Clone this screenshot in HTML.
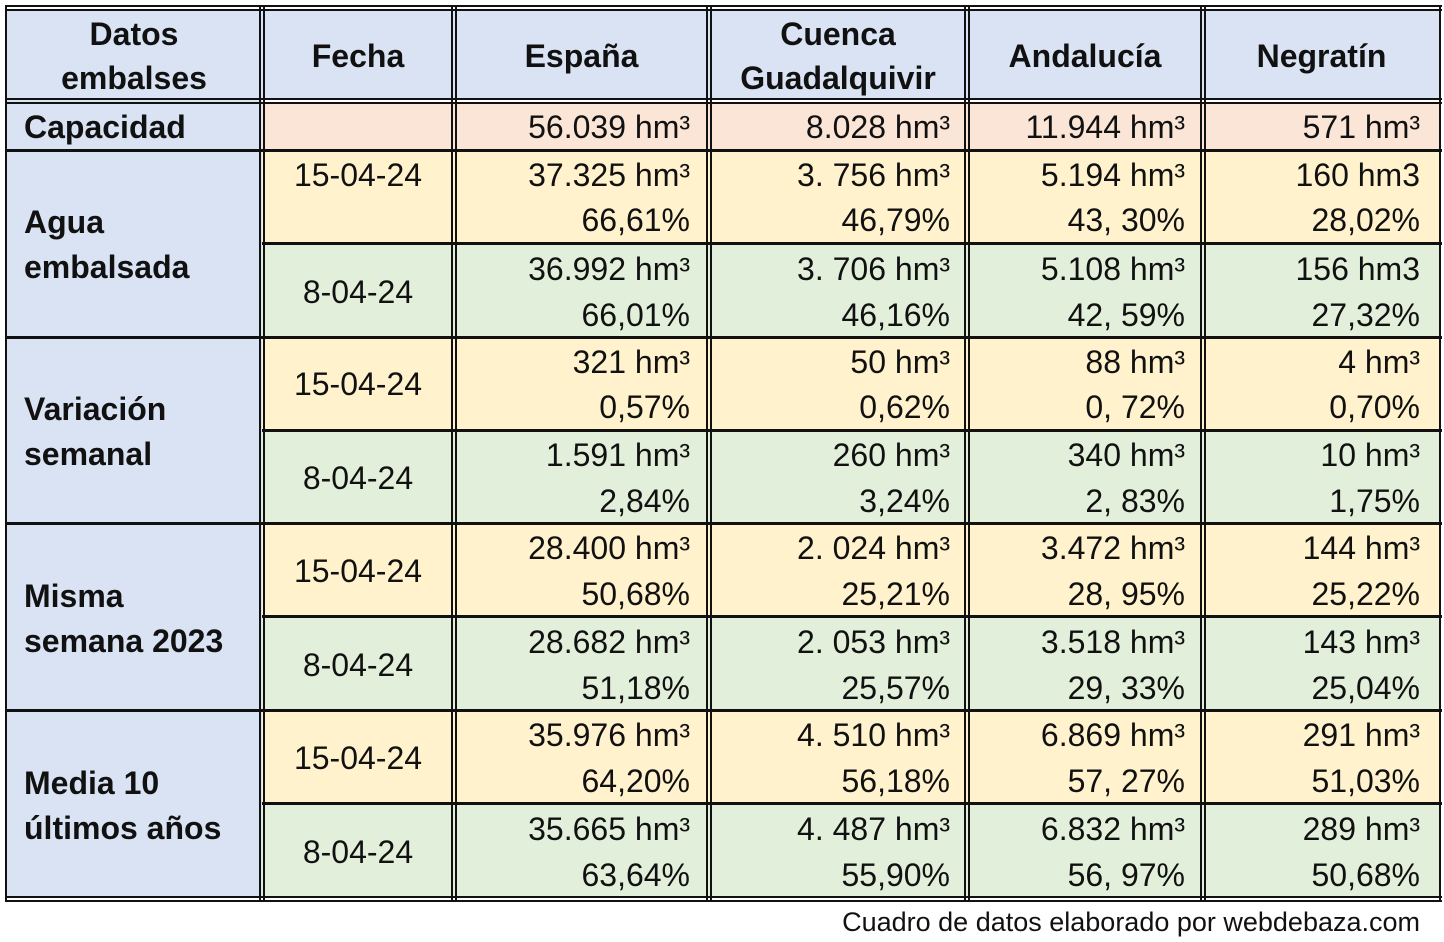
<!DOCTYPE html>
<html><head><meta charset="utf-8"><style>
body{margin:0;width:1444px;height:929px;background:#fff;position:relative;overflow:hidden;font-family:"Liberation Sans",sans-serif;color:#111}
.b{position:absolute}
.l{position:absolute;background:#111}
.t{position:absolute;height:40px;line-height:40px;font-size:32px;white-space:nowrap}
.h{font-weight:bold;text-align:center}
.c1{left:262px;width:192px;text-align:center}
.c2{right:754px;text-align:right}
.c3{right:494px;text-align:right}
.c4{right:259px;text-align:right}
.c5{right:24px;text-align:right}
.lab{left:24px;font-weight:bold}
</style></head><body>
<div class="b" style="left:6px;top:10px;width:1434px;height:90px;background:#dae3f3"></div>
<div class="b" style="left:6px;top:100px;width:256px;height:797px;background:#dae3f3"></div>
<div class="b" style="left:262px;top:102px;width:1178px;height:48px;background:#fbe5d6"></div>
<div class="b" style="left:262px;top:150px;width:1178px;height:93px;background:#fff2cc"></div>
<div class="b" style="left:262px;top:243px;width:1178px;height:94px;background:#e2efda"></div>
<div class="b" style="left:262px;top:337px;width:1178px;height:93px;background:#fff2cc"></div>
<div class="b" style="left:262px;top:430px;width:1178px;height:93px;background:#e2efda"></div>
<div class="b" style="left:262px;top:523px;width:1178px;height:93px;background:#fff2cc"></div>
<div class="b" style="left:262px;top:616px;width:1178px;height:94px;background:#e2efda"></div>
<div class="b" style="left:262px;top:710px;width:1178px;height:93px;background:#fff2cc"></div>
<div class="b" style="left:262px;top:803px;width:1178px;height:94px;background:#e2efda"></div>
<div class="l" style="left:5px;top:5px;width:1437px;height:2px"></div>
<div class="l" style="left:5px;top:9px;width:1437px;height:2px"></div>
<div class="l" style="left:5px;top:98px;width:1437px;height:2px"></div>
<div class="l" style="left:5px;top:102px;width:1437px;height:2px"></div>
<div class="l" style="left:5px;top:149px;width:1437px;height:3px"></div>
<div class="l" style="left:262px;top:242px;width:1180px;height:3px"></div>
<div class="l" style="left:5px;top:336px;width:1437px;height:3px"></div>
<div class="l" style="left:262px;top:429px;width:1180px;height:3px"></div>
<div class="l" style="left:5px;top:522px;width:1437px;height:3px"></div>
<div class="l" style="left:262px;top:615px;width:1180px;height:3px"></div>
<div class="l" style="left:5px;top:709px;width:1437px;height:3px"></div>
<div class="l" style="left:262px;top:802px;width:1180px;height:3px"></div>
<div class="l" style="left:5px;top:896px;width:1437px;height:2px"></div>
<div class="l" style="left:5px;top:900px;width:1437px;height:2px"></div>
<div class="l" style="left:5px;top:5px;width:2px;height:897px"></div>
<div class="l" style="left:1439px;top:5px;width:2px;height:897px"></div>
<div class="l" style="left:259px;top:5px;width:2px;height:897px"></div>
<div class="l" style="left:263px;top:5px;width:2px;height:897px"></div>
<div class="l" style="left:451px;top:5px;width:2px;height:897px"></div>
<div class="l" style="left:455px;top:5px;width:2px;height:897px"></div>
<div class="l" style="left:706px;top:5px;width:2px;height:897px"></div>
<div class="l" style="left:710px;top:5px;width:2px;height:897px"></div>
<div class="l" style="left:964px;top:5px;width:2px;height:897px"></div>
<div class="l" style="left:968px;top:5px;width:2px;height:897px"></div>
<div class="l" style="left:1200px;top:5px;width:2px;height:897px"></div>
<div class="l" style="left:1204px;top:5px;width:2px;height:897px"></div>
<div class="t h" style="left:6px;width:256px;top:14px">Datos</div>
<div class="t h" style="left:6px;width:256px;top:58px">embalses</div>
<div class="t h" style="left:262px;width:192px;top:36px">Fecha</div>
<div class="t h" style="left:454px;width:255px;top:36px">España</div>
<div class="t h" style="left:709px;width:258px;top:14px">Cuenca</div>
<div class="t h" style="left:709px;width:258px;top:58px">Guadalquivir</div>
<div class="t h" style="left:967px;width:236px;top:36px">Andalucía</div>
<div class="t h" style="left:1203px;width:237px;top:36px">Negratín</div>
<div class="t lab" style="top:107px">Capacidad</div>
<div class="t c2" style="top:107px">56.039 hm³</div>
<div class="t c3" style="top:107px">8.028 hm³</div>
<div class="t c4" style="top:107px">11.944 hm³</div>
<div class="t c5" style="top:107px">571 hm³</div>
<div class="t lab" style="top:202px">Agua</div>
<div class="t lab" style="top:247px">embalsada</div>
<div class="t lab" style="top:389px">Variación</div>
<div class="t lab" style="top:434px">semanal</div>
<div class="t lab" style="top:576px">Misma</div>
<div class="t lab" style="top:621px">semana 2023</div>
<div class="t lab" style="top:763px">Media 10</div>
<div class="t lab" style="top:808px">últimos años</div>
<div class="t c1" style="top:155px">15-04-24</div>
<div class="t c1" style="top:272px">8-04-24</div>
<div class="t c1" style="top:364px">15-04-24</div>
<div class="t c1" style="top:458px">8-04-24</div>
<div class="t c1" style="top:551px">15-04-24</div>
<div class="t c1" style="top:645px">8-04-24</div>
<div class="t c1" style="top:738px">15-04-24</div>
<div class="t c1" style="top:832px">8-04-24</div>
<div class="t c2" style="top:155px">37.325 hm³</div><div class="t c2" style="top:200px">66,61%</div>
<div class="t c3" style="top:155px">3. 756 hm³</div><div class="t c3" style="top:200px">46,79%</div>
<div class="t c4" style="top:155px">5.194 hm³</div><div class="t c4" style="top:200px">43, 30%</div>
<div class="t c5" style="top:155px">160 hm3</div><div class="t c5" style="top:200px">28,02%</div>
<div class="t c2" style="top:249px">36.992 hm³</div><div class="t c2" style="top:295px">66,01%</div>
<div class="t c3" style="top:249px">3. 706 hm³</div><div class="t c3" style="top:295px">46,16%</div>
<div class="t c4" style="top:249px">5.108 hm³</div><div class="t c4" style="top:295px">42, 59%</div>
<div class="t c5" style="top:249px">156 hm3</div><div class="t c5" style="top:295px">27,32%</div>
<div class="t c2" style="top:342px">321 hm³</div><div class="t c2" style="top:387px">0,57%</div>
<div class="t c3" style="top:342px">50 hm³</div><div class="t c3" style="top:387px">0,62%</div>
<div class="t c4" style="top:342px">88 hm³</div><div class="t c4" style="top:387px">0, 72%</div>
<div class="t c5" style="top:342px">4 hm³</div><div class="t c5" style="top:387px">0,70%</div>
<div class="t c2" style="top:435px">1.591 hm³</div><div class="t c2" style="top:481px">2,84%</div>
<div class="t c3" style="top:435px">260 hm³</div><div class="t c3" style="top:481px">3,24%</div>
<div class="t c4" style="top:435px">340 hm³</div><div class="t c4" style="top:481px">2, 83%</div>
<div class="t c5" style="top:435px">10 hm³</div><div class="t c5" style="top:481px">1,75%</div>
<div class="t c2" style="top:528px">28.400 hm³</div><div class="t c2" style="top:574px">50,68%</div>
<div class="t c3" style="top:528px">2. 024 hm³</div><div class="t c3" style="top:574px">25,21%</div>
<div class="t c4" style="top:528px">3.472 hm³</div><div class="t c4" style="top:574px">28, 95%</div>
<div class="t c5" style="top:528px">144 hm³</div><div class="t c5" style="top:574px">25,22%</div>
<div class="t c2" style="top:622px">28.682 hm³</div><div class="t c2" style="top:668px">51,18%</div>
<div class="t c3" style="top:622px">2. 053 hm³</div><div class="t c3" style="top:668px">25,57%</div>
<div class="t c4" style="top:622px">3.518 hm³</div><div class="t c4" style="top:668px">29, 33%</div>
<div class="t c5" style="top:622px">143 hm³</div><div class="t c5" style="top:668px">25,04%</div>
<div class="t c2" style="top:715px">35.976 hm³</div><div class="t c2" style="top:761px">64,20%</div>
<div class="t c3" style="top:715px">4. 510 hm³</div><div class="t c3" style="top:761px">56,18%</div>
<div class="t c4" style="top:715px">6.869 hm³</div><div class="t c4" style="top:761px">57, 27%</div>
<div class="t c5" style="top:715px">291 hm³</div><div class="t c5" style="top:761px">51,03%</div>
<div class="t c2" style="top:809px">35.665 hm³</div><div class="t c2" style="top:855px">63,64%</div>
<div class="t c3" style="top:809px">4. 487 hm³</div><div class="t c3" style="top:855px">55,90%</div>
<div class="t c4" style="top:809px">6.832 hm³</div><div class="t c4" style="top:855px">56, 97%</div>
<div class="t c5" style="top:809px">289 hm³</div><div class="t c5" style="top:855px">50,68%</div>
<div class="t" style="right:24px;top:902px;font-size:27px;text-align:right">Cuadro de datos elaborado por webdebaza.com</div>
</body></html>
